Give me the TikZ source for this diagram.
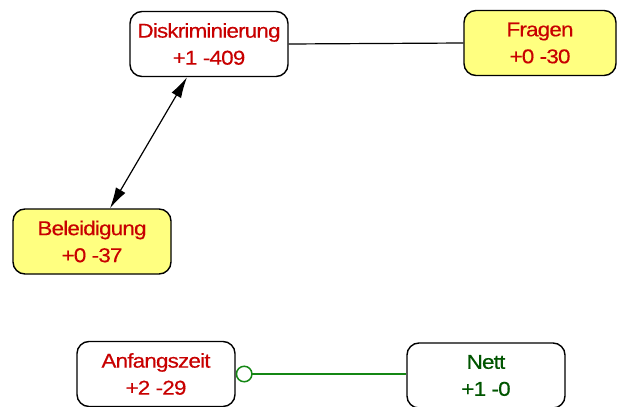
\documentclass[tikz,border=0pt]{standalone}
\usepackage{fontspec}
\setmainfont{Liberation Sans}[FakeStretch=1.12, LetterSpace=-4, FakeBold=0.4]
\usetikzlibrary{arrows.meta,calc}
\definecolor{txtred}{RGB}{200,0,0}
\definecolor{txtgreen}{RGB}{0,85,0}
\definecolor{linkgreen}{RGB}{20,135,20}
\definecolor{notefill}{RGB}{255,255,128}
\tikzset{
  topic/.style={draw=black, line width=1.4pt, rounded corners=12pt,
    fill=white, minimum width=158pt, minimum height=65pt,
    inner sep=0pt, align=center, text=txtred,
    font=\fontsize{20}{27}\selectfont},
  hot/.style={topic, fill=notefill},
  link/.style={draw=black, line width=1.2pt},
  biarrow/.style={link, {Latex[length=21pt,width=11pt]}-{Latex[length=21pt,width=11pt]}},
  greenlink/.style={draw=linkgreen, line width=1.3pt,
    -{Circle[open,length=17pt,width=17pt,line width=1.5pt]}}
}
\begin{document}
\begin{tikzpicture}[x=1pt,y=-1pt]
  \useasboundingbox (0,0) rectangle (619,407);
  \clip (0,0) rectangle (619,407);

  % nodes
  \node[topic] (disk) at (209,44) {Diskriminierung\\+1 -409};
  \node[hot, minimum width=152pt] (fragen) at (540,43) {Fragen\\+0 -30};
  \node[hot] (beleid) at (92,241.5) {Beleidigung\\+0 -37};
  \node[topic] (anf) at (156,374) {Anfangszeit\\+2 -29};
  \node[topic, text=txtgreen] (nett) at (486,375.5) {Nett\\+1 -0};

  % connectors
  \draw[link] (disk.east) -- (fragen.west);
  \draw[biarrow] ([xshift=-22pt]disk.south) -- ([xshift=18pt]beleid.north);
  \draw[greenlink] (nett.west |- 0,374) -- (anf.east |- 0,374);
\end{tikzpicture}
\end{document}
